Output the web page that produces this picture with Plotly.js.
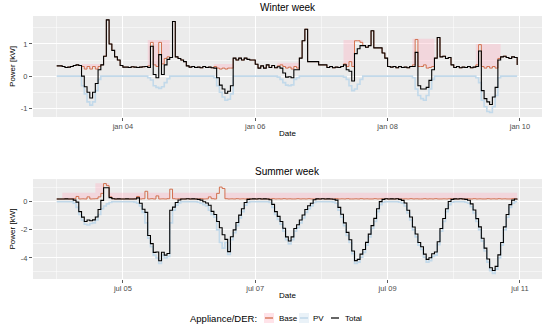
<!DOCTYPE html>
<html><head><meta charset="utf-8">
<script src="https://cdn.plot.ly/plotly-3.0.1.min.js"></script>
<style>html,body{margin:0;padding:0;background:#fff}#chart{width:550px;height:331px}</style>
</head><body><div id="chart"></div>
<script>
// ---- Data (hourly steps) ----
const winterStart = Date.UTC(2021, 0, 3);   // jan 03 00:00
const summerStart = Date.UTC(2021, 6, 4);   // jul 04 00:00

const winterBase = [
  0.32,0.32,0.30,0.27,0.28,0.30,0.33,0.35,0.33,0.30,0.22,0.30,0.22,0.30,0.22,0.30,0.35,0.62,1.75,1.00,0.80,0.60,0.50,0.33,
  0.28,0.28,0.27,0.29,0.28,0.27,0.28,0.29,0.30,0.32,1.05,0.35,0.30,1.05,0.38,0.55,0.60,0.58,1.70,0.60,0.55,0.50,0.45,0.32,
  0.28,0.30,0.27,0.28,0.26,0.30,0.27,0.28,0.26,0.30,0.25,0.22,0.25,0.22,0.25,0.25,0.56,0.50,0.56,0.50,0.56,0.52,0.50,0.50,
  0.37,0.25,0.32,0.25,0.35,0.27,0.33,0.26,0.32,0.35,0.30,0.25,0.28,0.22,0.30,0.25,0.56,1.10,1.46,0.45,0.45,0.45,0.45,0.35,
  0.35,0.35,0.27,0.30,0.26,0.28,0.27,0.30,0.38,0.30,0.45,0.30,1.10,1.10,1.05,0.95,0.90,0.95,1.41,0.88,0.88,0.88,0.72,0.56,
  0.30,0.28,0.30,0.26,0.30,0.27,0.28,0.26,0.30,0.35,1.14,0.30,0.30,0.35,0.25,0.27,0.30,0.56,1.20,0.60,0.62,0.55,0.58,0.35,
  0.27,0.30,0.26,0.28,0.27,0.30,0.26,0.28,0.35,0.98,0.30,0.25,0.30,0.25,0.30,0.25,0.55,0.60,0.62,0.58,0.55,0.60,0.58,0.35
];
const winterPV = [
  0,0,0,0,0,0,0,0,0,-0.30,-0.55,-0.80,-0.90,-0.80,-0.45,-0.10,0,0,0,0,0,0,0,0,
  0,0,0,0,0,0,0,0,0,-0.05,-0.12,-0.30,-0.35,-0.38,-0.33,-0.20,-0.08,0,0,0,0,0,0,0,
  0,0,0,0,0,0,0,0,0,-0.05,-0.30,-0.50,-0.65,-0.75,-0.72,-0.55,0,0,0,0,0,0,0,0,
  0,0,0,0,0,0,0,0,-0.03,-0.10,-0.20,-0.28,-0.30,-0.27,-0.10,-0.05,0,0,0,0,0,0,0,0,
  0,0,0,0,0,0,0,0,-0.03,-0.10,-0.30,-0.45,-0.40,-0.25,-0.10,0,0,0,0,0,0,0,0,0,
  0,0,0,0,0,0,0,0,0,-0.05,-0.40,-0.60,-0.70,-0.75,-0.60,-0.40,-0.10,0,0,0,0,0,0,0,
  0,0,0,0,0,0,0,0,-0.05,-0.20,-0.75,-0.95,-1.10,-1.13,-0.95,-0.60,-0.05,0,0,0,0,0,0,0
];
// [fromHour, toHour, upper value] of the shaded Base band
const winterBand = [[9,16,0.38],[33,41,1.12],[57,64,0.38],[80,88,0.42],[104,111,1.12],[129,137,1.16],[152,161,1.0]];

const summerBase = [
  0.20,0.20,0.20,0.21,0.20,0.20,0.22,0.38,0.20,0.21,0.20,0.35,0.20,0.21,0.22,0.35,0.60,1.30,1.15,0.35,0.22,0.20,0.21,0.20,
  0.20,0.21,0.20,0.20,0.22,0.38,0.20,0.22,0.75,0.20,0.22,0.20,0.42,0.20,0.21,0.20,0.22,0.90,0.22,0.20,0.21,0.20,0.20,0.22,
  0.20,0.21,0.20,0.20,0.22,0.20,0.21,0.35,0.22,0.20,0.60,1.05,0.95,0.22,0.20,0.21,0.20,0.22,0.20,0.21,0.20,0.22,0.20,0.21,
  0.20,0.22,0.20,0.21,0.20,0.20,0.22,0.20,0.21,0.20,0.22,0.20,0.21,0.20,0.20,0.22,0.20,0.21,0.20,0.22,0.20,0.20,0.21,0.20,
  0.22,0.20,0.21,0.20,0.20,0.22,0.20,0.21,0.20,0.22,0.20,0.20,0.21,0.20,0.22,0.20,0.21,0.20,0.20,0.22,0.20,0.21,0.20,0.22,
  0.20,0.21,0.20,0.22,0.20,0.20,0.21,0.20,0.22,0.20,0.21,0.20,0.20,0.22,0.20,0.21,0.20,0.22,0.20,0.20,0.21,0.20,0.22,0.20,
  0.21,0.20,0.22,0.20,0.20,0.21,0.20,0.22,0.20,0.21,0.20,0.20,0.22,0.20,0.21,0.20,0.22,0.20,0.21,0.20,0.20,0.22,0.20,0.21
];
const summerPV = [
  0,0,0,0,0,0,-0.10,-0.40,-0.90,-1.30,-1.60,-1.65,-1.55,-1.50,-1.30,-0.90,-0.50,-0.30,-0.15,-0.05,0,0,0,0,
  0,0,0,0,-0.02,-0.10,-0.30,-0.75,-1.50,-2.60,-3.20,-3.80,-4.00,-4.40,-3.80,-4.00,-3.90,-1.50,-0.60,-0.25,-0.08,0,0,0,
  0,0,0,-0.03,-0.10,-0.20,-0.30,-0.60,-0.90,-1.10,-2.00,-2.90,-3.30,-2.90,-3.75,-2.70,-2.20,-1.70,-1.15,-0.70,-0.25,-0.05,0,0,
  0,0,0,0,0,-0.05,-0.40,-0.90,-1.25,-1.60,-2.10,-2.70,-3.00,-2.70,-2.10,-1.85,-1.50,-1.15,-0.75,-0.50,-0.30,-0.05,0,0,
  0,0,0,0,-0.02,-0.10,-0.60,-1.10,-1.70,-2.40,-2.90,-3.70,-4.40,-4.30,-3.95,-3.60,-3.10,-2.50,-1.90,-1.40,-0.70,-0.20,-0.03,0,
  0,0,0,0,-0.03,-0.10,-0.30,-0.80,-1.30,-2.00,-2.50,-3.10,-3.40,-3.95,-4.30,-4.20,-3.90,-3.80,-3.05,-2.10,-1.40,-0.70,-0.20,-0.03,
  0,0,0,0,-0.03,-0.10,-0.35,-0.80,-1.40,-2.00,-2.80,-3.50,-4.30,-4.90,-5.10,-4.80,-4.00,-3.10,-2.00,-1.10,-0.40,-0.10,0,0
];
const summerBand = [[2,14,0.65],[14,19,1.32],[19,168,0.65]];

const winterXTicks = ['jan 04','jan 06','jan 08','jan 10'];
const summerXTicks = ['jul 05','jul 07','jul 09','jul 11'];
const xTickDays = [1,3,5,7];
const winterYTicks = [-1,0,1];
const winterYLabels = ['-1','0','1'];
const summerYTicks = [-4,-2,0];
const summerYLabels = ['-4','-2','0'];
const seriesNames = ['Base','PV','Total'];

// ---- Build ----
const H = 3600000, D = 24*H;
const COL = {base:'#cf6440', band:'rgba(255,182,196,0.38)', pv:'#c2d9ea', total:'#000000'};

function panel(start, base, pv, band, xa, ya) {
  const x = base.map((_, i) => start + i*H);
  const total = base.map((b, i) => +(b + pv[i]).toFixed(3));
  const top = base.map((b, i) => {
    let t = b;
    band.forEach(s => { if (i >= s[0] && i < s[1]) t = Math.max(t, s[2]); });
    return t;
  });
  const common = {x:x, xaxis:xa, yaxis:ya, mode:'lines', showlegend:false, hoverinfo:'skip'};
  return [
    Object.assign({}, common, {y:base, line:{width:0, shape:'hv', color:COL.base}}),
    Object.assign({}, common, {y:top, fill:'tonexty', fillcolor:COL.band, line:{width:0, shape:'hv', color:COL.base}}),
    Object.assign({}, common, {y:pv, name:seriesNames[1], line:{width:1.6, shape:'hv', color:COL.pv}}),
    Object.assign({}, common, {y:base, name:seriesNames[0], line:{width:0.9, shape:'hv', color:COL.base}}),
    Object.assign({}, common, {y:total, name:seriesNames[2], line:{width:1.1, shape:'hv', color:COL.total}})
  ];
}

const data = panel(winterStart, winterBase, winterPV, winterBand, 'x', 'y')
  .concat(panel(summerStart, summerBase, summerPV, summerBand, 'x2', 'y2'));

const FONT = 'Liberation Sans, Arial, sans-serif';
function xAxis(start, labels, anchor) {
  return {
    type:'date', anchor:anchor, domain:[0,1],
    range:[start - 8.6*H, start + 176*H],
    tickmode:'array', tickvals:xTickDays.map(d => start + d*D), ticktext:labels,
    ticks:'outside', ticklen:3, tickwidth:0.8, tickcolor:'#333',
    tickfont:{size:7.5, color:'#4d4d4d'}, ticklabelstandoff:-1,
    showgrid:true, gridcolor:'#ffffff', gridwidth:1, zeroline:false, showline:false,
    minor:{tickmode:'linear', tick0:start, dtick:D, showgrid:true, gridcolor:'#ffffff', gridwidth:0.5},
    title:{text:'Date', font:{size:8, color:'#000'}, standoff:0},
    fixedrange:true
  };
}
function yAxis(domain, range, vals, labels, minor0, minorStep, anchor) {
  return {
    anchor:anchor, domain:domain, range:range,
    tickmode:'array', tickvals:vals, ticktext:labels,
    ticks:'outside', ticklen:3, tickwidth:0.8, tickcolor:'#333',
    tickfont:{size:7.5, color:'#4d4d4d'},
    showgrid:true, gridcolor:'#ffffff', gridwidth:1, zeroline:false, showline:false,
    minor:{tickmode:'linear', tick0:minor0, dtick:minorStep, showgrid:true, gridcolor:'#ffffff', gridwidth:0.5},
    title:{text:'Power [kW]', font:{size:8, color:'#000'}, standoff:4},
    fixedrange:true
  };
}

// pixel helpers for layout placement (plot area: x 33..542, y 16..279)
const px = v => (v - 33) / 509;
const py = v => (279 - v) / 263;

const legendKeys = [
  {x0:264, fill:'rgba(255,182,196,0.38)', line:COL.base, label:seriesNames[0], lx:277},
  {x0:299, fill:'rgba(194,217,234,0.35)', line:COL.pv, label:seriesNames[1], lx:311},
  {x0:330, fill:'rgba(0,0,0,0)', line:COL.total, label:seriesNames[2], lx:343}
];
const shapes = [], annotations = [
  {text:'Winter week', x:0.5, y:py(7), xref:'paper', yref:'paper', showarrow:false, font:{size:10, color:'#000'}, yanchor:'middle'},
  {text:'Summer week', x:0.5, y:py(171), xref:'paper', yref:'paper', showarrow:false, font:{size:10, color:'#000'}, yanchor:'middle'},
  {text:'Appliance/DER:', x:px(259), y:py(318), xref:'paper', yref:'paper', showarrow:false, xanchor:'right', yanchor:'middle', font:{size:9.5, color:'#000'}}
];
legendKeys.forEach(k => {
  shapes.push({type:'rect', xref:'paper', yref:'paper', x0:px(k.x0), x1:px(k.x0+10), y0:py(313), y1:py(323), fillcolor:k.fill, line:{width:0}});
  shapes.push({type:'line', xref:'paper', yref:'paper', x0:px(k.x0+1), x1:px(k.x0+9), y0:py(318), y1:py(318), line:{color:k.line, width:k.line===COL.pv?1.6:1.2}});
  annotations.push({text:k.label, x:px(k.lx), y:py(318), xref:'paper', yref:'paper', showarrow:false, xanchor:'left', yanchor:'middle', font:{size:8, color:'#000'}});
});

const layout = {
  width:550, height:331,
  margin:{l:33, r:8, t:16, b:52},
  paper_bgcolor:'#ffffff', plot_bgcolor:'#ebebeb',
  font:{family:FONT, color:'#000'},
  showlegend:false,
  xaxis:xAxis(winterStart, winterXTicks, 'y'),
  yaxis:yAxis([0.616,1], [-1.27,1.87], winterYTicks, winterYLabels, -0.5, 1, 'x'),
  xaxis2:xAxis(summerStart, summerXTicks, 'y2'),
  yaxis2:yAxis([0,0.38], [-5.5,1.62], summerYTicks, summerYLabels, -5, 2, 'x2'),
  shapes:shapes, annotations:annotations
};

Plotly.newPlot('chart', data, layout, {staticPlot:true, displayModeBar:false});
</script>
</body></html>
